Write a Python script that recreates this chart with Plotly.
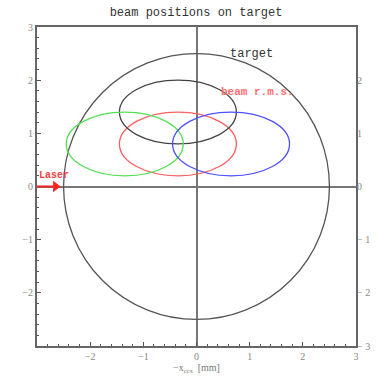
import plotly.graph_objects as go

# data (mm)
target_center = (0.0, 0.0)
target_radius = 2.5
beam_names = ["nominal", "up", "left", "right"]
beam_x = [-0.35, -0.35, -1.35, 0.65]
beam_y = [0.8, 1.4, 0.8, 0.8]
beam_a = [1.1, 1.1, 1.1, 1.1]
beam_b = [0.6, 0.6, 0.6, 0.6]
beam_colors = ["#ff6060", "#444444", "#55e055", "#5050ff"]

x_ticks = [-2, -1, 0, 1, 2, 3]
yl_ticks = [-2, -1, 0, 1, 2, 3]
yr_ticks = [-3, -2, -1, 0, 1, 2]
laser_start, laser_end = -3.0, -2.55

fig = go.Figure()
fig.add_trace(go.Scatter(x=[0], y=[0], mode="markers", marker=dict(opacity=0), showlegend=False,
                         hoverinfo="skip"))
fig.add_trace(go.Scatter(x=[0], y=[0], yaxis="y2", mode="markers", marker=dict(opacity=0),
                         showlegend=False, hoverinfo="skip"))

shapes = []
shapes.append(dict(type="circle", xref="x", yref="y",
                   x0=target_center[0] - target_radius, x1=target_center[0] + target_radius,
                   y0=target_center[1] - target_radius, y1=target_center[1] + target_radius,
                   line=dict(color="#555555", width=1.3)))
for cx, cy, a, b, c in zip(beam_x, beam_y, beam_a, beam_b, beam_colors):
    shapes.append(dict(type="circle", xref="x", yref="y", x0=cx - a, x1=cx + a,
                       y0=cy - b, y1=cy + b, line=dict(color=c, width=1.3)))
# laser arrow shaft
shapes.append(dict(type="line", xref="x", yref="y", x0=laser_start, x1=laser_end - 0.1,
                   y0=0, y1=0, line=dict(color="#ff2020", width=2)))
fig.add_trace(go.Scatter(x=[laser_end - 0.1], y=[0], mode="markers",
                         marker=dict(symbol="triangle-right", size=10, color="#ff2020"),
                         showlegend=False, hoverinfo="skip"))

mono = "Liberation Mono, DejaVu Sans Mono, monospace"
serif = "Liberation Serif, DejaVu Serif, serif"

annotations = [
    dict(x=0.6, y=2.5, xref="x", yref="y", text="target", showarrow=False,
         xanchor="left", font=dict(family=mono, size=12, color="#333333")),
    dict(x=0.42, y=1.78, xref="x", yref="y", text="<b>beam r.m.s.</b>", showarrow=False,
         xanchor="left", font=dict(family=mono, size=11, color="#ff7070")),
    dict(x=-3.0, y=0.2, xref="x", yref="y", text="<b>Laser</b>", showarrow=False,
         xanchor="left", font=dict(family=mono, size=10, color="#ff4040")),
]

axis_common = dict(range=[-3, 3], showgrid=False, ticks="inside", ticklen=4, tickwidth=1,
                   tickcolor="#555555", showline=True, linecolor="#666666", linewidth=2,
                   mirror=True, zeroline=True, zerolinecolor="#777777", zerolinewidth=2,
                   automargin=False,
                   tickfont=dict(family=serif, size=10, color="#888888"),
                   minor=dict(ticks="inside", ticklen=2, tickcolor="#555555", dtick=0.2))

fig.update_layout(
    width=377, height=379, margin=dict(l=37, r=21, t=27, b=33),
    paper_bgcolor="white", plot_bgcolor="white", showlegend=False,
    title=dict(text="beam positions on target", x=0.52, y=0.98, yanchor="top", automargin=False,
               font=dict(family=mono, size=12, color="#333333")),
    xaxis=dict(axis_common, tickvals=x_ticks, ticktext=[str(v).replace("-", "−") for v in x_ticks],
               title=dict(text="−x<sub>ccs</sub>  [mm]", standoff=2,
                          font=dict(family=serif, size=10, color="#777777"))),
    yaxis=dict(axis_common, tickvals=yl_ticks, ticktext=[str(v).replace("-", "−") for v in yl_ticks]),
    yaxis2=dict(range=[-3, 3], overlaying="y", side="right", anchor="x", showgrid=False,
                zeroline=False, automargin=False, showticklabels=True,
                tickvals=yr_ticks, ticktext=[str(v).replace("-", "− ") for v in yr_ticks],
                ticks="", tickfont=dict(family=serif, size=10, color="#888888")),
    shapes=shapes, annotations=annotations,
)

fig.write_html("out.html", config={"displayModeBar": False},
               post_script="document.body.style.margin='0';document.body.style.padding='0';")
